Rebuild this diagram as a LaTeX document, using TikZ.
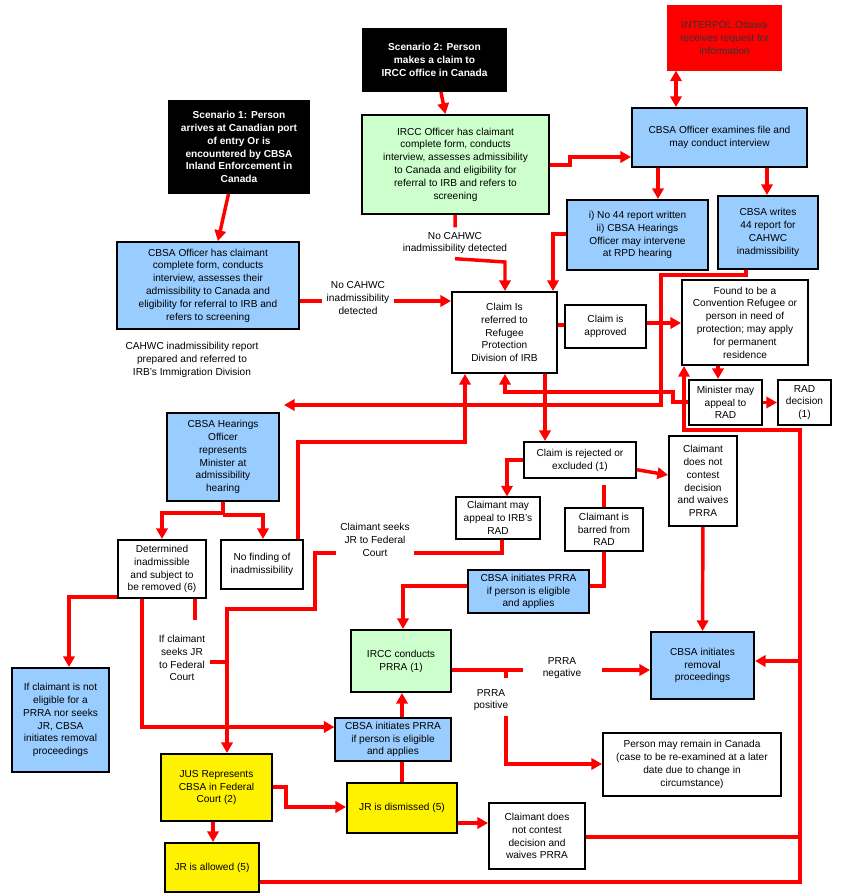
\documentclass[tikz,border=0pt]{standalone}
\usepackage{fontspec}
\setmainfont{Liberation Sans}
\usetikzlibrary{arrows.meta}
\definecolor{bblue}{RGB}{153,204,255}
\definecolor{bgreen}{RGB}{204,255,204}
\tikzset{
  box/.style={draw, line width=1.5pt, align=center, inner sep=1pt, font=\fontsize{7.6}{9.6}\selectfont},
  thin/.style={line width=0.8pt},
  sz/.style 2 args={minimum width=#1*0.75pt, minimum height=#2*0.75pt},
  lbl/.style={align=center, font=\fontsize{7.6}{9.6}\selectfont},
  flow/.style={draw=red, line width=2.6pt},
  go/.style={flow, -{Triangle[length=8pt,width=8.5pt]}},
}
\begin{document}
\begin{tikzpicture}[x=0.75pt, y=-0.75pt]
  \useasboundingbox (0,0) rectangle (861,896);
  % boxes
  \node[box, fill=black, text=white, font=\bfseries\fontsize{7.6}{9.6}\selectfont, sz={143}{62}] (sc2) at (434.5,60) {Scenario 2: Person\\makes a claim to\\IRCC office in Canada};
  \node[box, fill=black, text=white, font=\bfseries\fontsize{7.6}{9.6}\selectfont, sz={140}{92}] (sc1) at (239,147) {Scenario 1: Person\\arrives at Canadian port\\of entry Or is\\encountered by CBSA\\Inland Enforcement in\\Canada};
  \node[box, thin, draw=red, fill=red, text=black!80, sz={113}{64}] (interpol) at (724.5,38) {INTERPOL Ottawa\\receives request for\\information};
  \node[box, fill=bgreen, sz={187}{99}] (ircc1) at (455.5,164.5) {IRCC Officer has claimant\\complete form, conducts\\interview, assesses admissibility\\to Canada and eligibility for\\referral to IRB and refers to\\screening};
  \node[box, fill=bblue, sz={175}{59}] (exam) at (719.5,137.5) {CBSA Officer examines file and\\may conduct interview};
  \node[box, fill=bblue, sz={141}{70}] (no44) at (637.5,235) {i) No 44 report written\\ii) CBSA Hearings\\Officer may intervene\\at RPD hearing};
  \node[box, fill=bblue, sz={100}{73}] (writes) at (768,232.5) {CBSA writes\\44 report for\\CAHWC\\inadmissibility};
  \node[box, fill=bblue, sz={182}{87}] (cbsa1) at (208,285.5) {CBSA Officer has claimant\\complete form, conducts\\interview, assesses their\\admissibility to Canada and\\eligibility for referral to IRB and\\refers to screening};
  \node[box, sz={105}{81}] (refer) at (504.5,332.5) {Claim Is\\referred to\\Refugee\\Protection\\Division of IRB};
  \node[box, sz={81}{43}] (approved) at (605.5,326.5) {Claim is\\approved};
  \node[box, sz={126}{85}] (found) at (745,322.5) {Found to be a\\Convention Refugee or\\person in need of\\protection; may apply\\for permanent\\residence};
  \node[box, sz={73}{45}] (minister) at (725.5,402.5) {Minister may\\appeal to\\RAD};
  \node[box, sz={53}{45}] (raddec) at (804.5,402.5) {RAD\\decision\\(1)};
  \node[box, fill=bblue, sz={112}{88}] (hearing) at (223,457) {CBSA Hearings\\Officer\\represents\\Minister at\\admissibility\\hearing};
  \node[box, sz={112}{36}] (rejected) at (580,460) {Claim is rejected or\\excluded (1)};
  \node[box, sz={68}{90}] (nocont1) at (703,481) {Claimant\\does not\\contest\\decision\\and waives\\PRRA};
  \node[box, thin, sz={84}{42}] (mayappeal) at (498,518) {Claimant may\\appeal to IRB's\\RAD};
  \node[box, thin, sz={78}{43}] (barred) at (604,529.5) {Claimant is\\barred from\\RAD};
  \node[box, sz={88}{58}] (determined) at (162,569) {Determined\\inadmissible\\and subject to\\be removed (6)};
  \node[box, sz={82}{49}] (nofind) at (262,564.5) {No finding of\\inadmissibility};
  \node[box, thin, fill=bblue, sz={121}{43}] (prraA) at (528.5,591.5) {CBSA initiates PRRA\\if person is eligible\\and applies};
  \node[box, fill=bgreen, sz={100}{62}] (irccprra) at (401,661) {IRCC conducts\\PRRA (1)};
  \node[box, fill=bblue, sz={103}{67}] (removal) at (702.5,665.5) {CBSA initiates\\removal\\proceedings};
  \node[box, fill=bblue, sz={97}{104}] (notelig) at (60.5,720) {If claimant is not\\eligible for a\\PRRA nor seeks\\JR, CBSA\\initiates removal\\proceedings};
  \node[box, thin, fill=bblue, sz={116}{43}] (prraB) at (393,739.5) {CBSA initiates PRRA\\if person is eligible\\and applies};
  \node[box, sz={178}{63}] (remain) at (692,764.5) {Person may remain in Canada\\(case to be re-examined at a later\\date due to change in\\circumstance)};
  \node[box, fill=yellow, sz={111}{67}] (jus) at (216.5,787.5) {JUS Represents\\CBSA in Federal\\Court (2)};
  \node[box, fill=yellow, sz={110}{50}] (dismissed) at (402,808) {JR is dismissed (5)};
  \node[box, sz={96}{66}] (nocont2) at (537,836) {Claimant does\\not contest\\decision and\\waives PRRA};
  \node[box, fill=yellow, sz={94}{49}] (allowed) at (212,867.5) {JR is allowed (5)};
  % labels
  \node[lbl] (l1) at (455,243) {No CAHWC\\inadmissibility detected};
  \node[lbl] (l2) at (358,298) {No CAHWC\\inadmissibility\\detected};
  \node[lbl] (l3) at (192,360) {CAHWC inadmissibility report\\prepared and referred to\\IRB's Immigration Division};
  \node[lbl] (l4) at (375,540) {Claimant seeks\\JR to Federal\\Court};
  \node[lbl] (l5) at (182,658) {If claimant\\seeks JR\\to Federal\\Court};
  \node[lbl] (l6) at (562,668) {PRRA\\negative};
  \node[lbl] (l7) at (491,700) {PRRA\\positive};
  % connectors
  \draw[go] (sc2) -- (ircc1);
  \draw[go] (sc1) -- (cbsa1);
  \draw[flow, {Triangle[length=8pt,width=8.5pt]}-{Triangle[length=8pt,width=8.5pt]}] (interpol.south -| 676,0) -- (exam.north -| 676,0);
  \draw[go] (ircc1.east |- 0,165) -- (570,165) -- (570,157) -- (exam.west |- 0,157);
  \draw[go] (exam.south -| 658,0) -- (no44.north -| 658,0);
  \draw[go] (exam.south -| 767,0) -- (writes.north -| 767,0);
  \draw[flow] (ircc1) -- (l1);
  \draw[go] (l1.south -| 455,0) -- (505,262) -- (refer.north -| 505,0);
  \draw[flow] (cbsa1.east |- 0,301) -- (l2.west |- 0,301);
  \draw[go] (l2.east |- 0,301) -- (refer.west |- 0,301);
  \draw[go] (no44.west |- 0,234) -- (553,234) -- (refer.north -| 553,0);
  \draw[flow] (refer.east |- 0,325) -- (approved.west |- 0,325);
  \draw[go] (approved.east |- 0,323) -- (found.west |- 0,323);
  \draw[go] (writes.south -| 746,0) -- (746,275) -- (661,275) -- (661,405) -- (284,405);
  \draw[go] (found.south -| 718,0) -- (minister.north -| 718,0);
  \draw[go] (minister) -- (raddec);
  \draw[go] (minister.west |- 0,402) -- (673,402) -- (673,392) -- (505,392) -- (refer.south -| 505,0);
  \draw[go] (refer.south -| 545,0) -- (rejected.north -| 545,0);
  \draw[go] (allowed.east |- 0,882) -- (800,882) -- (800,430) -- (684,430) -- (found.south -| 684,0);
  \draw[flow] (nocont2.east |- 0,837) -- (800,837);
  \draw[go] (800,661) -- (removal.east |- 0,661);
  \draw[go] (rejected.west) -- (507,460) -- (mayappeal.north -| 507,0);
  \draw[go] (rejected) -- (nocont1);
  \draw[go] (nocont1) -- (removal);
  \draw[flow] (mayappeal.south -| 502,0) -- (502,553) -- (l4.east |- 0,553);
  \draw[go] (l4.west |- 0,553) -- (315,553) -- (315,609) -- (227,609) -- (jus.north -| 227,0);
  \draw[flow] (rejected.south -| 604,0) ++(0,6) -- (barred.north -| 604,0);
  \draw[flow] (barred.south -| 604,0) -- (604,586) -- (prraA.east |- 0,586);
  \draw[go] (prraA.west |- 0,586) -- (403,586) -- (irccprra.north -| 403,0);
  \draw[go] (hearing.south) -- (223,513) -- (162,513) -- (determined.north);
  \draw[go] (223,515) -- (263,515) -- (nofind.north -| 263,0);
  \draw[go] (nofind.north -| 298,0) -- (298,442) -- (465,442) -- (refer.south -| 465,0);
  \draw[go] (determined.west |- 0,597) -- (69,597) -- (notelig.north -| 69,0);
  \draw[go] (determined.south -| 142,0) -- (142,727) -- (prraB.west |- 0,727);
  \draw[flow] (determined.south -| 195,0) -- (195,620);
  \draw[flow] (l5.east |- 0,662) -- (227,662);
  \draw[go] (prraB.north -| 402,0) -- (irccprra.south -| 402,0);
  \draw[flow] (dismissed.north -| 402,0) -- (prraB.south -| 402,0);
  \draw[go] (jus.east |- 0,787) -- (286,787) -- (286,807) -- (dismissed.west |- 0,807);
  \draw[go] (jus.south -| 213,0) -- (allowed.north -| 213,0);
  \draw[go] (dismissed.east |- 0,823) -- (nocont2.west |- 0,823);
  \draw[flow] (irccprra.east |- 0,670) -- (523,670);
  \draw[go] (602,670) -- (removal.west |- 0,670);
  \draw[flow] (506,670) -- (506,678);
  \draw[go] (l7.south -| 506,0) -- (506,764) -- (remain.west |- 0,764);
\end{tikzpicture}
\end{document}
